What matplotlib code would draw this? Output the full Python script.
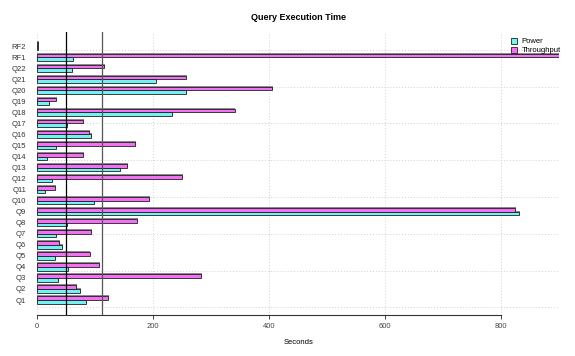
import numpy as np
import matplotlib.pyplot as plt
from matplotlib.patches import Patch

plt.rcParams['font.family'] = ['Liberation Sans', 'DejaVu Sans']

queries = ['Q1', 'Q2', 'Q3', 'Q4', 'Q5', 'Q6', 'Q7', 'Q8', 'Q9', 'Q10', 'Q11',
           'Q12', 'Q13', 'Q14', 'Q15', 'Q16', 'Q17', 'Q18', 'Q19', 'Q20', 'Q21',
           'Q22', 'RF1', 'RF2']
power = [84, 74, 36, 53, 30, 42, 33, 51, 830, 97, 14, 25, 143, 17, 32, 93,
         52, 233, 21, 256, 205, 60, 62, 1]
throughput = [122, 67, 282, 106, 90, 38, 93, 172, 823, 193, 31, 249, 155, 79,
              169, 89, 79, 340, 32, 404, 256, 115, 960, 1]
ref_lines = [50, 111]

col_power = '#6ff3f3'
col_thru = '#f36ff3'

fig = plt.figure(figsize=(5.75, 3.56), dpi=100)
ax = fig.add_axes([37.3 / 575, 41 / 356, 522 / 575, 283 / 356])

n = len(queries)
grp = np.arange(n) * 3
y_pow = grp + 1.5
y_thr = grp + 2.5

# grid first
for gx in range(0, 900, 200):
    ax.axvline(gx, color='#d0d0d0', lw=0.7, ls=(0, (1, 2)), zorder=0)
for gy in range(0, 80, 10):
    ax.axhline(gy, color='#d0d0d0', lw=0.7, ls=(0, (1, 2)), zorder=0)

# shadows
ax.barh(y_pow + 0.27, np.array(power) + 1.7, height=1, color='#8a8a8a', lw=0, zorder=1)
ax.barh(y_thr + 0.27, np.array(throughput) + 1.7, height=1, color='#8a8a8a', lw=0, zorder=1)

ax.barh(y_pow, power, height=1, color=col_power, edgecolor='#202020', lw=0.6, zorder=2)
ax.barh(y_thr, throughput, height=1, color=col_thru, edgecolor='#202020', lw=0.6, zorder=2)

ax.axvline(ref_lines[0], color='black', lw=0.9, zorder=3)
ax.axvline(ref_lines[1], color='#555555', lw=0.9, zorder=3)

ax.set_xlim(0, 900)
ax.set_ylim(-2.07, 74.85)

ax.set_yticks(grp + 2)
ax.set_yticklabels(queries, fontsize=5.5, color='#333333')
ax.tick_params(axis='y', length=0, pad=8)
ax.set_xticks([0, 200, 400, 600, 800])
ax.tick_params(axis='x', labelsize=5.5, length=3, width=0.7, colors='#444444', pad=3)

for s in ['top', 'right', 'left']:
    ax.spines[s].set_visible(False)
ax.spines['bottom'].set_bounds(0, 800)
ax.spines['bottom'].set_linewidth(0.8)
ax.spines['bottom'].set_color('#333333')

ax.set_xlabel('Seconds', fontsize=5.5, labelpad=6)
fig.text(298 / 575, 1 - 17 / 356, 'Query Execution Time', ha='center', va='center',
         fontsize=6.5, fontweight='bold')

handles = [Patch(facecolor=col_power, edgecolor='#202020', lw=0.6),
           Patch(facecolor=col_thru, edgecolor='#202020', lw=0.6)]
fig.legend(handles, ['Power', 'Throughput'], loc='upper left',
           bbox_to_anchor=(507 / 575, 1 - 34 / 356), frameon=False,
           fontsize=5.5, handlelength=0.8, handleheight=0.8, handletextpad=0.6,
           labelspacing=0.2, borderpad=0)

fig.savefig('out.png', dpi=100)
